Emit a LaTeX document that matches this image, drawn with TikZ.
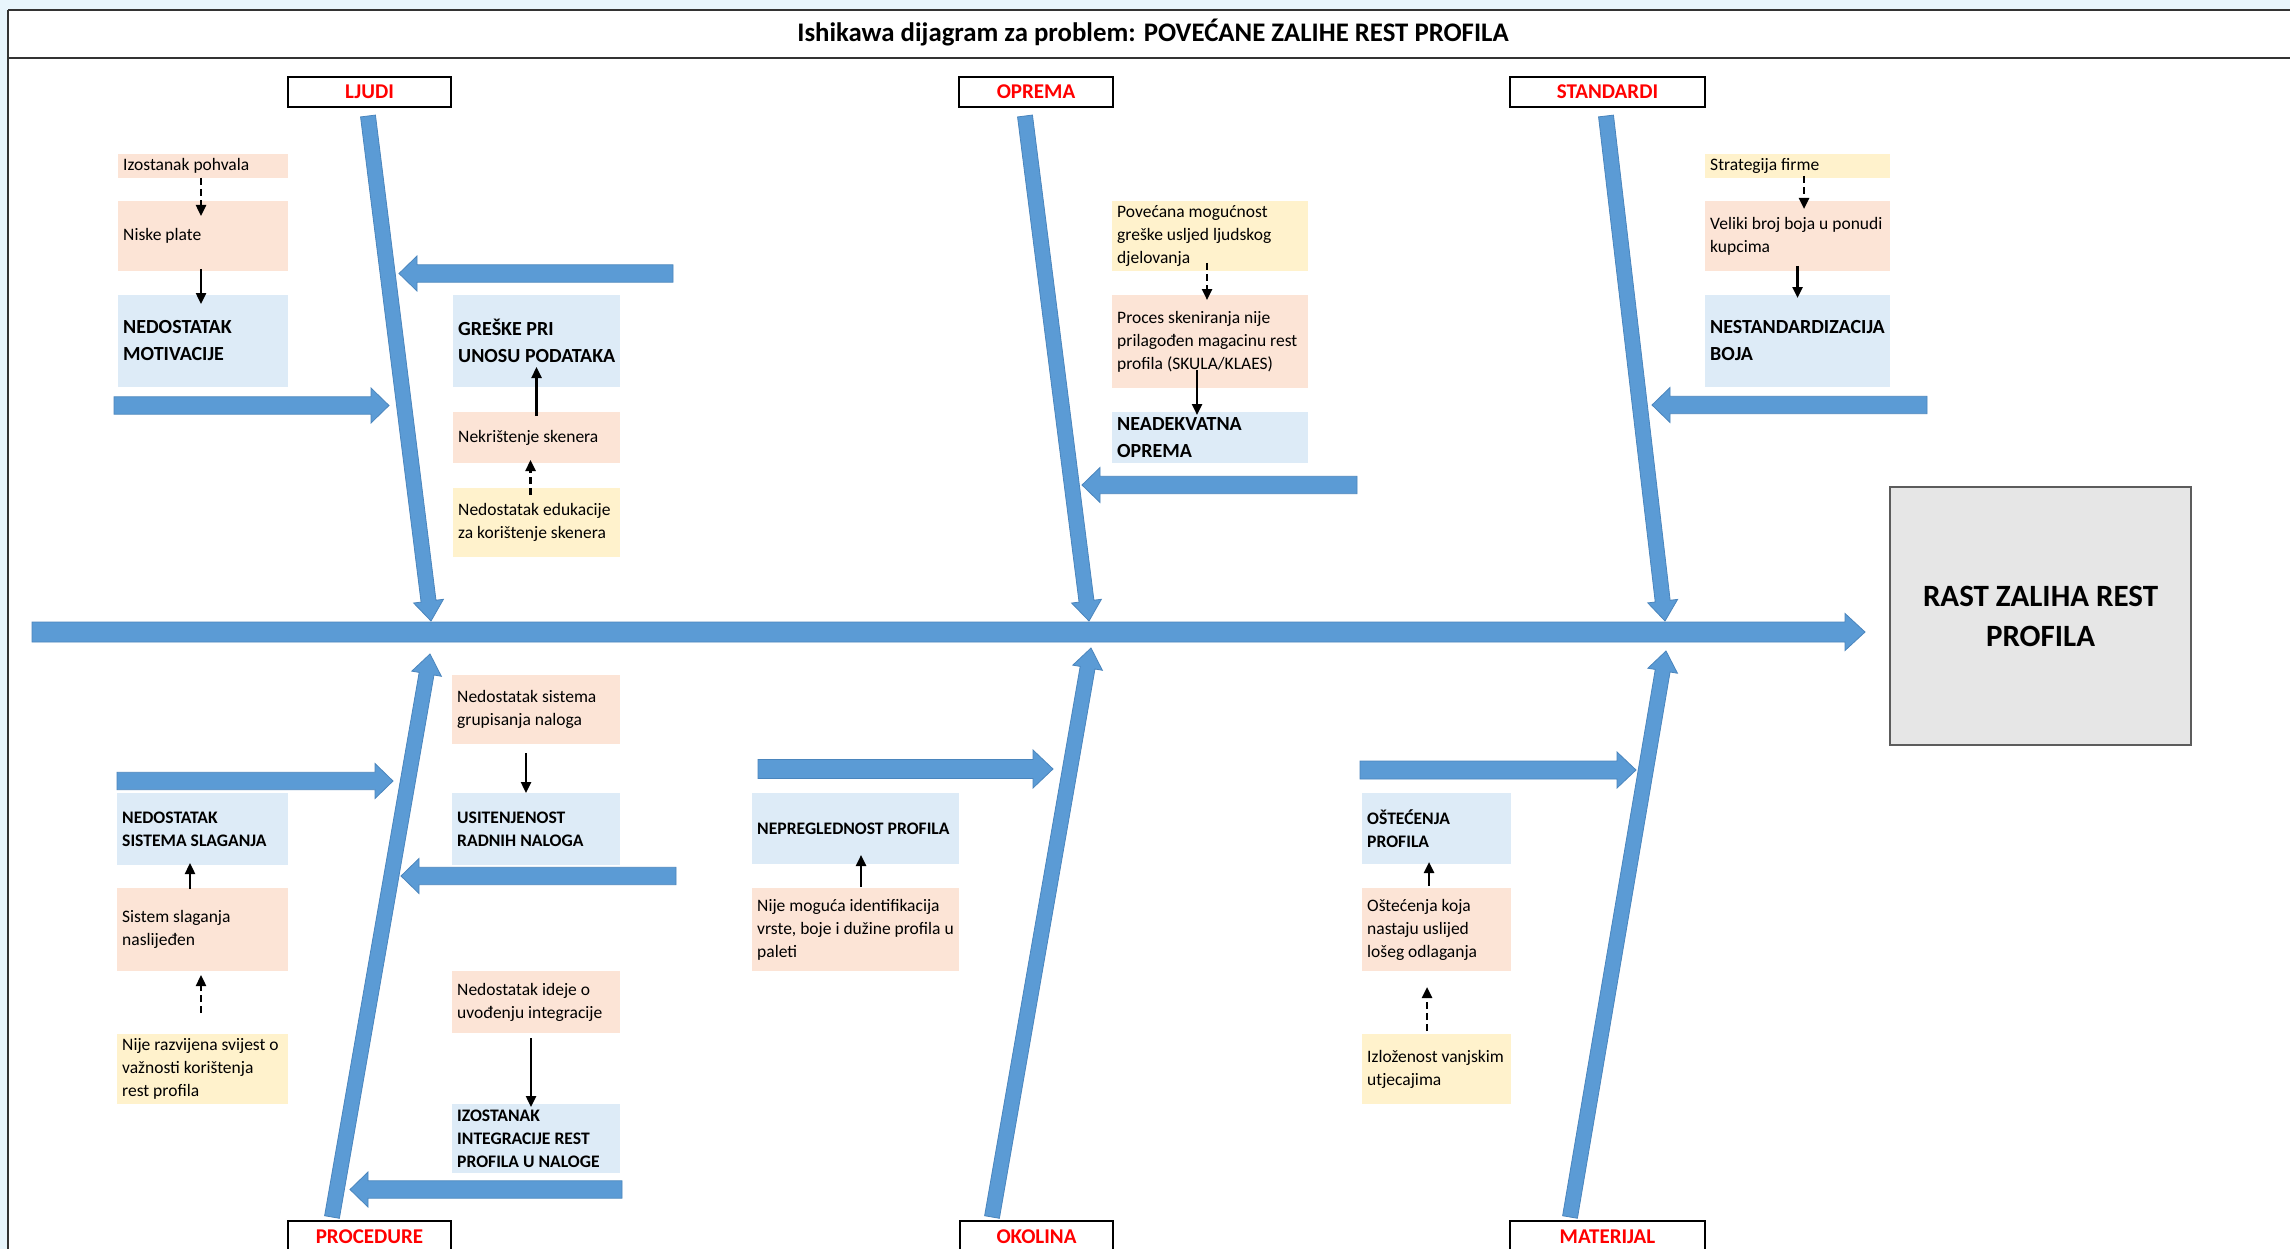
\documentclass[tikz,border=0pt]{standalone}
\usepackage{fontspec}
\setmainfont{Carlito}
\usetikzlibrary{calc,arrows.meta}
\definecolor{bone}{HTML}{5B9BD5}
\definecolor{boneedge}{HTML}{4A85BD}
\definecolor{lblue}{HTML}{DDEBF7}
\definecolor{peach}{HTML}{FCE4D6}
\definecolor{lyellow}{HTML}{FFF2CC}
\definecolor{bggray}{HTML}{E6E6E6}
\definecolor{bandblue}{HTML}{E8F5FC}
\definecolor{framegray}{HTML}{333333}
\newcommand{\ftreg}{\fontsize{17.5}{23}\selectfont}
\newcommand{\ftbtop}{\fontsize{20}{27}\selectfont\bfseries}
\newcommand{\ftbbot}{\fontsize{17.6}{23}\selectfont\bfseries}
\tikzset{
  bonestyle/.style={fill=bone, draw=boneedge, line width=0.8pt, line join=miter},
  boxbase/.style={anchor=north west, inner sep=0pt, outer sep=0pt, draw=none},
  txtbase/.style={anchor=west, inner xsep=5pt, inner ysep=0pt, align=left},
  catbox/.style={anchor=north west, draw=black, fill=white, line width=1.5pt, inner sep=0pt, outer sep=0pt},
  cattxt/.style={text=red, font=\fontsize{21}{24}\selectfont\bfseries},
  sarr/.style={line width=2.4pt, -{Triangle[length=11pt,width=10pt]}},
  darr/.style={sarr, dash pattern=on 7pt off 4pt}
}
\newcommand{\blockarr}[5]{%
  \coordinate (bah) at ($(#2)!#5!(#1)$);
  \filldraw[bonestyle] ($(#1)!#3!90:(#2)$) -- ($(bah)!#3!90:(#2)$) -- ($(bah)!#4!90:(#2)$) -- (#2) -- ($(bah)!#4!-90:(#2)$) -- ($(bah)!#3!-90:(#2)$) -- ($(#1)!#3!-90:(#2)$) -- cycle;
}
\newcommand{\cbox}[8]{%
  \node[boxbase, fill=#6, minimum width=#4pt, minimum height=#5pt] (#1) at (#2,#3) {};
  \node[txtbase, font=#7] (#1-t) at (#1.west) {#8};
}
\begin{document}
\begin{tikzpicture}[x=1pt, y=-1pt]
\useasboundingbox (0,0) rectangle (2290,1249);
% background / sheet frame
\fill[bandblue] (0,0) rectangle (2290,1249);
\fill[white] (8,10) rectangle (2290,1249);
\draw[framegray, line width=2pt] (8,10) -- (2290,10);
\draw[framegray, line width=1.8pt] (8,58) -- (2290,58);
\draw[framegray, line width=1.5pt] (8,10) -- (8,1249);
\node[font=\fontsize{26.8}{30}\selectfont\bfseries] (title) at (1153,33) {Ishikawa dijagram za problem: POVEĆANE ZALIHE REST PROFILA};

% spine
\coordinate (sp-a) at (32,632);
\coordinate (sp-b) at (1865,632);
\blockarr{sp-a}{sp-b}{10pt}{18.5pt}{20pt}

% bones
\coordinate (lj-a) at (368,116);   \coordinate (lj-b) at (431,621);
\coordinate (op-a) at (1025,116);  \coordinate (op-b) at (1089,621);
\coordinate (st-a) at (1606,116);  \coordinate (st-b) at (1665,621);
\coordinate (pr-a) at (332,1217);  \coordinate (pr-b) at (430,654);
\coordinate (ok-a) at (992,1217);  \coordinate (ok-b) at (1091,648);
\coordinate (ma-a) at (1570,1217); \coordinate (ma-b) at (1666,651);
\blockarr{lj-a}{lj-b}{7.5pt}{15pt}{20pt}
\blockarr{op-a}{op-b}{7.5pt}{15pt}{20pt}
\blockarr{st-a}{st-b}{7.5pt}{15pt}{20pt}
\blockarr{pr-a}{pr-b}{7.5pt}{15pt}{20pt}
\blockarr{ok-a}{ok-b}{7.5pt}{15pt}{20pt}
\blockarr{ma-a}{ma-b}{7.5pt}{15pt}{20pt}

% branches
\coordinate (b1-a) at (114,405.5);  \coordinate (b1-b) at (389,405.5);
\coordinate (b2-a) at (673,273.5);  \coordinate (b2-b) at (399,273.5);
\coordinate (b3-a) at (1357,485);   \coordinate (b3-b) at (1082,485);
\coordinate (b4-a) at (1927,405);   \coordinate (b4-b) at (1652,405);
\coordinate (b5-a) at (117,781);    \coordinate (b5-b) at (393,781);
\coordinate (b6-a) at (676,876);    \coordinate (b6-b) at (401,876);
\coordinate (b7-a) at (622,1189.5); \coordinate (b7-b) at (350,1189.5);
\coordinate (b8-a) at (758,769);    \coordinate (b8-b) at (1053,769);
\coordinate (b9-a) at (1360,770);   \coordinate (b9-b) at (1636,770);
\blockarr{b1-a}{b1-b}{8.7pt}{17.5pt}{18pt}
\blockarr{b2-a}{b2-b}{8.7pt}{17.5pt}{18pt}
\blockarr{b3-a}{b3-b}{8.7pt}{17.5pt}{18pt}
\blockarr{b4-a}{b4-b}{8.7pt}{17.5pt}{18pt}
\blockarr{b5-a}{b5-b}{8.7pt}{17.5pt}{18pt}
\blockarr{b6-a}{b6-b}{8.7pt}{17.5pt}{18pt}
\blockarr{b7-a}{b7-b}{8.7pt}{17.5pt}{18pt}
\blockarr{b8-a}{b8-b}{9.5pt}{19pt}{20pt}
\blockarr{b9-a}{b9-b}{9pt}{18pt}{19pt}

% category labels
\node[catbox, minimum width=163pt, minimum height=30pt] (ljudi) at (288,77) {};
\node[cattxt] (ljudi-t) at (ljudi.center) {LJUDI};
\node[catbox, minimum width=154pt, minimum height=30pt] (oprema) at (959,77) {};
\node[cattxt] (oprema-t) at (oprema.center) {OPREMA};
\node[catbox, minimum width=195pt, minimum height=30pt] (standardi) at (1510,77) {};
\node[cattxt] (standardi-t) at (standardi.center) {STANDARDI};
\node[catbox, minimum width=163pt, minimum height=31pt] (procedure) at (288,1221) {};
\node[cattxt] (procedure-t) at (procedure.center) {PROCEDURE};
\node[catbox, minimum width=153pt, minimum height=31pt] (okolina) at (960,1221) {};
\node[cattxt] (okolina-t) at (okolina.center) {OKOLINA};
\node[catbox, minimum width=195pt, minimum height=31pt] (materijal) at (1510,1221) {};
\node[cattxt] (materijal-t) at (materijal.center) {MATERIJAL};

% effect box
\node[boxbase, draw=framegray!80!white, fill=bggray, line width=1.5pt, minimum width=301pt, minimum height=258pt] (rast) at (1890,487) {};
\node[font=\fontsize{31}{40}\selectfont\bfseries, align=center] (rast-t) at (rast.center) {RAST ZALIHA REST\\PROFILA};

% LJUDI boxes
\cbox{izo}{118}{154}{170}{24}{peach}{\ftreg}{Izostanak pohvala}
\cbox{niske}{118}{201}{170}{70}{peach}{\ftreg}{Niske plate}
\cbox{nedmot}{118}{295}{170}{92}{lblue}{\ftbtop}{NEDOSTATAK\\MOTIVACIJE}
\cbox{greske}{453}{295}{167}{92}{lblue}{\ftbtop}{GREŠKE PRI\\UNOSU PODATAKA}
\cbox{nekr}{453}{412}{167}{51}{peach}{\ftreg}{Nekrištenje skenera}
\cbox{nededu}{453}{488}{167}{69}{lyellow}{\ftreg}{Nedostatak edukacije\\za korištenje skenera}
% OPREMA boxes
\cbox{povec}{1112}{201}{196}{70}{lyellow}{\ftreg}{Povećana mogućnost\\greške usljed ljudskog\\djelovanja}
\cbox{proces}{1112}{295}{196}{93}{peach}{\ftreg}{Proces skeniranja nije\\prilagođen magacinu rest\\profila (SKULA/KLAES)}
\cbox{neadek}{1112}{412}{196}{51}{lblue}{\ftbtop}{NEADEKVATNA\\OPREMA}
% STANDARDI boxes
\cbox{strat}{1705}{154}{185}{24}{lyellow}{\ftreg}{Strategija firme}
\cbox{veliki}{1705}{201}{185}{70}{peach}{\ftreg}{Veliki broj boja u ponudi\\kupcima}
\cbox{nestand}{1705}{295}{185}{92}{lblue}{\ftbtop}{NESTANDARDIZACIJA\\BOJA}
% PROCEDURE boxes
\cbox{nedsis}{117}{793}{171}{72}{lblue}{\ftbbot}{NEDOSTATAK\\SISTEMA SLAGANJA}
\cbox{sistem}{117}{888}{171}{83}{peach}{\ftreg}{Sistem slaganja\\naslijeđen}
\cbox{nijerazv}{117}{1034}{171}{70}{lyellow}{\ftreg}{Nije razvijena svijest o\\važnosti korištenja\\rest profila}
\cbox{nedgrup}{452}{675}{168}{69}{peach}{\ftreg}{Nedostatak sistema\\grupisanja naloga}
\cbox{usit}{452}{793}{168}{72}{lblue}{\ftbbot}{USITENJENOST\\RADNIH NALOGA}
\cbox{nedideje}{452}{971}{168}{62}{peach}{\ftreg}{Nedostatak ideje o\\uvođenju integracije}
\cbox{izost}{452}{1104}{168}{69}{lblue}{\ftbbot}{IZOSTANAK\\INTEGRACIJE REST\\PROFILA U NALOGE}
% OKOLINA boxes
\cbox{neprg}{752}{793}{207}{71}{lblue}{\ftbbot}{NEPREGLEDNOST PROFILA}
\cbox{nijemog}{752}{888}{207}{83}{peach}{\ftreg}{Nije moguća identifikacija\\vrste, boje i dužine profila u\\paleti}
% MATERIJAL boxes
\cbox{ostprof}{1362}{793}{149}{71}{lblue}{\ftbbot}{OŠTEĆENJA\\PROFILA}
\cbox{ostkoja}{1362}{888}{149}{83}{peach}{\ftreg}{Oštećenja koja\\nastaju uslijed\\lošeg odlaganja}
\cbox{izloz}{1362}{1034}{149}{70}{lyellow}{\ftreg}{Izloženost vanjskim\\utjecajima}

% cause arrows
\draw[darr, shorten <=0pt, shorten >=-15pt] ([xshift=-2pt]izo.south) -- ([xshift=-2pt]niske.north);
\draw[sarr, shorten <=-2pt, shorten >=-9pt] ([xshift=-2pt]niske.south) -- ([xshift=-2pt]nedmot.north);
\draw[sarr, shorten <=-4pt, shorten >=-20pt] (nekr.north) -- (greske.south);
\draw[darr, shorten <=-7pt, shorten >=-3pt] ([xshift=-6pt]nededu.north) -- ([xshift=-6pt]nekr.south);
\draw[darr, shorten <=-8pt, shorten >=-5pt] ([xshift=-3pt]povec.south) -- ([xshift=-3pt]proces.north);
\draw[sarr, shorten <=-18pt, shorten >=-3pt] ([xshift=-13pt]proces.south) -- ([xshift=-13pt]neadek.north);
\draw[darr, shorten <=-2pt, shorten >=-8pt] ([xshift=6.5pt]strat.south) -- ([xshift=6.5pt]veliki.north);
\draw[sarr, shorten <=-5pt, shorten >=-3pt] (veliki.south) -- (nestand.north);
\draw[sarr, shorten <=-1pt, shorten >=-2pt] ([xshift=-12.5pt]sistem.north) -- ([xshift=-12.5pt]nedsis.south);
\draw[darr, shorten <=21pt, shorten >=4pt] ([xshift=-1.5pt]nijerazv.north) -- ([xshift=-1.5pt]sistem.south);
\draw[sarr, shorten <=9pt] ([xshift=-10pt]nedgrup.south) -- ([xshift=-10pt]usit.north);
\draw[sarr, shorten <=5pt, shorten >=-3pt] ([xshift=-5pt]nedideje.south) -- ([xshift=-5pt]izost.north);
\draw[sarr, shorten <=1pt, shorten >=-9pt] ([xshift=5.5pt]nijemog.north) -- ([xshift=5.5pt]neprg.south);
\draw[sarr, shorten <=2pt, shorten >=-2pt] ([xshift=-7.5pt]ostkoja.north) -- ([xshift=-7.5pt]ostprof.south);
\draw[darr, shorten <=3pt, shorten >=16pt] ([xshift=-9.5pt]izloz.north) -- ([xshift=-9.5pt]ostkoja.south);
\end{tikzpicture}
\end{document}
